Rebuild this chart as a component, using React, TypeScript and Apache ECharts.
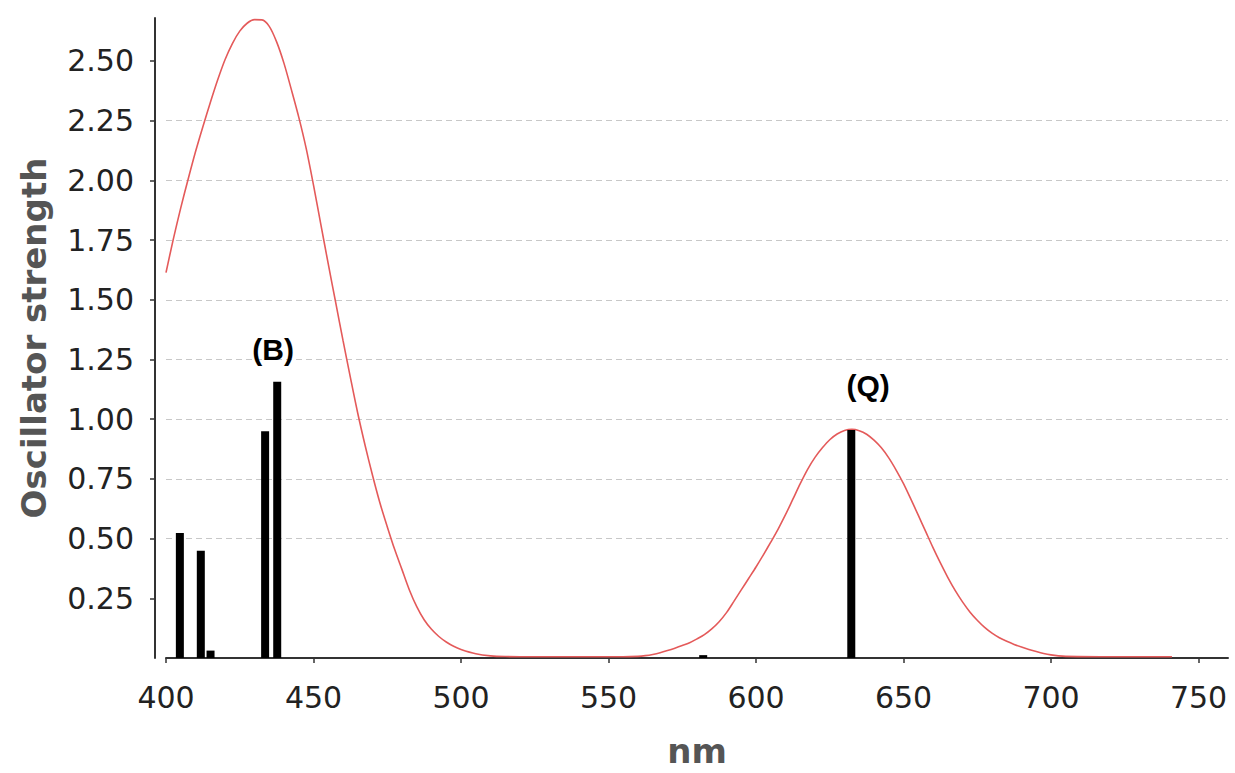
import React, { useEffect, useRef } from "react";
import * as echarts from "echarts";

// Simulated spectrum (red curve)
const curveNm = [
  400, 402.5, 405, 407.5, 410, 412.5, 415, 417.5, 420, 422.5,
  425, 427.5, 430, 432.5, 435, 437.5, 440, 442.5, 445, 447.5,
  450, 452.5, 455, 457.5, 460, 462.5, 465, 467.5, 470, 472.5,
  475, 477.5, 480, 482.5, 485, 487.5, 490, 492.5, 495, 497.5,
  500, 505, 510, 515, 525, 540, 555,
  560, 562.5, 565, 567.5, 570, 572.5, 575, 577.5, 580, 582.5,
  585, 587.5, 590, 592.5, 595, 597.5, 600, 602.5, 605, 607.5,
  610, 612.5, 615, 617.5, 620, 622.5, 625, 627.5, 630, 632.5,
  635, 637.5, 640, 642.5, 645, 647.5, 650, 652.5, 655, 657.5,
  660, 662.5, 665, 667.5, 670, 672.5, 675, 677.5, 680, 682.5,
  685, 687.5, 690, 692.5, 695, 697.5, 700, 702.5, 705, 720,
  741,
];
const curveVal = [
  1.614, 1.755, 1.885, 2.005, 2.12, 2.225, 2.325, 2.42, 2.505, 2.573,
  2.625, 2.658, 2.673, 2.672, 2.645, 2.58, 2.49, 2.38, 2.265, 2.135,
  1.98, 1.815, 1.65, 1.49, 1.33, 1.175, 1.025, 0.89, 0.765, 0.65,
  0.55, 0.455, 0.37, 0.285, 0.215, 0.16, 0.12, 0.09, 0.067, 0.049,
  0.036, 0.018, 0.009, 0.006, 0.005, 0.005, 0.005,
  0.007, 0.01, 0.015, 0.022, 0.031, 0.041, 0.052, 0.064, 0.08, 0.098,
  0.122, 0.152, 0.19, 0.237, 0.285, 0.333, 0.381, 0.432, 0.485, 0.54,
  0.6, 0.665, 0.73, 0.79, 0.84, 0.88, 0.914, 0.938, 0.953, 0.958,
  0.952, 0.937, 0.912, 0.88, 0.838, 0.787, 0.73, 0.665, 0.598, 0.53,
  0.462, 0.398, 0.338, 0.283, 0.235, 0.193, 0.158, 0.128, 0.104, 0.085,
  0.07, 0.057, 0.046, 0.036, 0.027, 0.019, 0.013, 0.009, 0.007, 0.005,
  0.005,
];

// Transitions (black sticks)
const barNm = [404.7, 411.8, 415.1, 433.6, 437.7, 582.1, 632.3];
const barVal = [0.523, 0.449, 0.031, 0.95, 1.157, 0.012, 0.955];

// Tick labels
const xTicks = [400, 450, 500, 550, 600, 650, 700, 750];
const yTicks = [0.25, 0.5, 0.75, 1.0, 1.25, 1.5, 1.75, 2.0, 2.25, 2.5];

// Band annotations
const annotNames = ["(B)", "(Q)"];
const annotNm = [436.3, 638.0];
const annotVal = [1.29, 1.14];

export default function App() {
  const ref = useRef<HTMLDivElement>(null);

  useEffect(() => {
    if (!ref.current) return;
    const chart = echarts.init(ref.current, null, { renderer: "svg" });

    const tickFont = {
      fontFamily: "DejaVu Sans",
      fontSize: 30,
      color: "#222",
    };
    const titleFont = {
      fontFamily: "DejaVu Sans",
      fontSize: 34,
      fontWeight: "bold" as const,
      color: "#555",
    };

    chart.setOption({
      animation: false,
      backgroundColor: "#fff",
      grid: { left: 166, right: 7, top: 18, bottom: 114, containLabel: false },
      xAxis: {
        type: "value",
        min: 400,
        max: 760,
        interval: 50,
        offset: 12,
        name: "nm",
        nameLocation: "middle",
        nameGap: 64,
        nameTextStyle: titleFont,
        axisLine: { show: true, lineStyle: { color: "#333", width: 2 } },
        axisTick: {
          show: true,
          length: 5,
          customValues: xTicks,
          lineStyle: { color: "#333", width: 1.5 },
        },
        axisLabel: { ...tickFont, margin: 12, customValues: xTicks },
        splitLine: { show: false },
      },
      yAxis: {
        type: "value",
        min: 0,
        max: 2.68,
        interval: 0.25,
        offset: 11,
        name: "Oscillator strength",
        nameLocation: "middle",
        nameGap: 104,
        nameTextStyle: titleFont,
        axisLine: { show: true, lineStyle: { color: "#333", width: 2 } },
        axisTick: {
          show: true,
          length: 5,
          customValues: yTicks,
          lineStyle: { color: "#333", width: 1.5 },
        },
        axisLabel: {
          ...tickFont,
          margin: 21,
          customValues: yTicks,
          formatter: (v: number) => v.toFixed(2),
        },
        splitLine: {
          show: true,
          showMinLine: false,
          showMaxLine: false,
          lineStyle: { color: "#c8c8c8", width: 1, type: [6, 4] },
        },
      },
      series: [
        {
          type: "line",
          data: curveNm.map((x, i) => [x, curveVal[i]]),
          showSymbol: false,
          smooth: 0.3,
          lineStyle: { color: "#e45a5a", width: 1.6 },
          z: 2,
        },
        {
          type: "bar",
          data: barNm.map((x, i) => [x, barVal[i]]),
          barWidth: 8,
          itemStyle: { color: "#000" },
          z: 3,
          markPoint: {
            symbol: "circle",
            symbolSize: 0,
            data: annotNames.map((n, i) => ({
              name: n,
              coord: [annotNm[i], annotVal[i]],
            })),
            label: {
              show: true,
              position: "inside",
              formatter: "{b}",
              fontFamily: "Liberation Sans",
              fontWeight: "bold",
              fontSize: 30,
              color: "#000",
            },
          },
        },
      ],
    });

    return () => chart.dispose();
  }, []);

  return (
    <div
      ref={ref}
      style={{
        position: "fixed",
        left: 0,
        top: 0,
        width: 1235,
        height: 773,
        background: "#fff",
      }}
    />
  );
}
